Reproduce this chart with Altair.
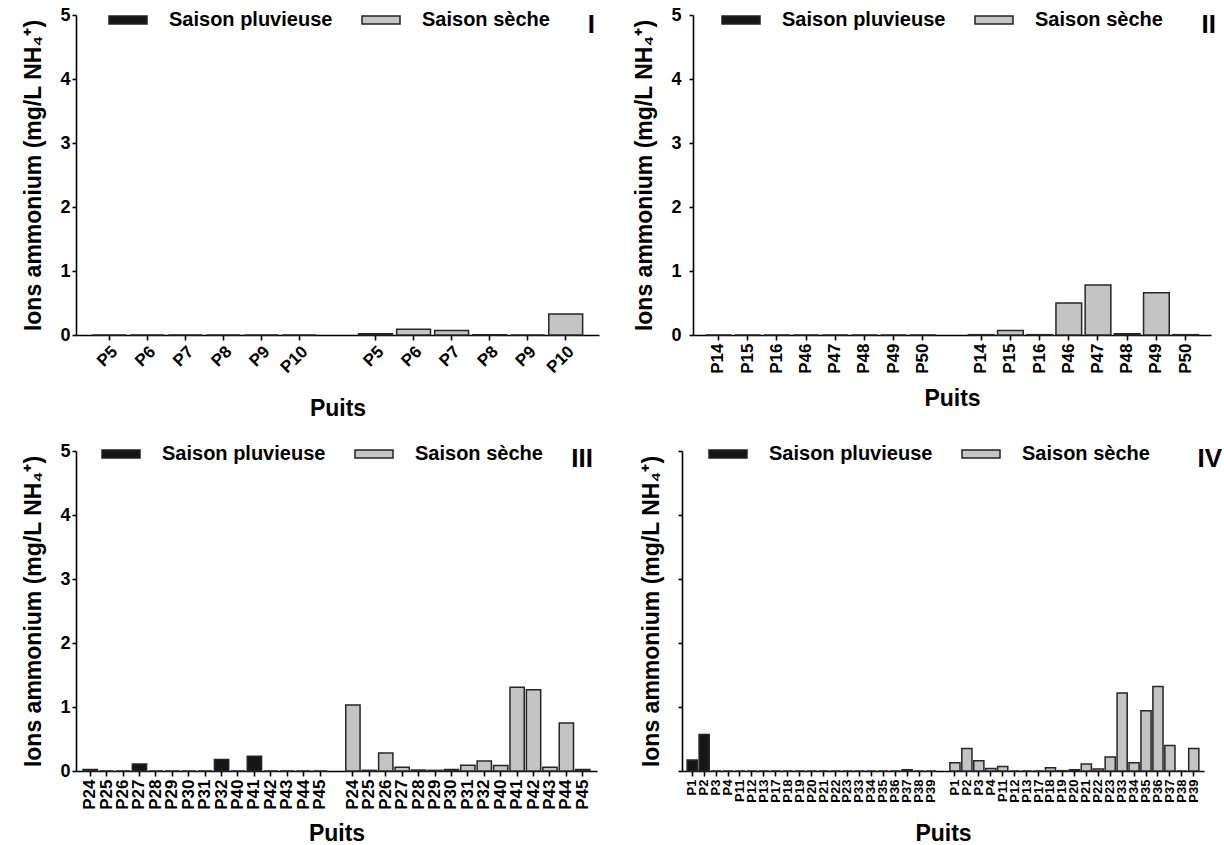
import altair as alt
import pandas as pd

FONT = "Liberation Sans"
SEASONS = ["Saison pluvieuse", "Saison sèche"]
FILLS = ["#161616", "#c4c4c4"]
ROMANS = ["I", "II", "III", "IV"]
Y_TITLE = "Ions ammonium (mg/L NH₄⁺)"
X_TITLE = "Puits"
Y_TICKS = [0, 1, 2, 3, 4, 5]

# Panel I
WELLS_I = ["P5", "P6", "P7", "P8", "P9", "P10"]
RAIN_I = [0, 0, 0, 0, 0, 0]
DRY_I = [0.02, 0.09, 0.07, 0.005, 0, 0.33]

# Panel II
WELLS_II = ["P14", "P15", "P16", "P46", "P47", "P48", "P49", "P50"]
RAIN_II = [0, 0, 0, 0, 0, 0, 0, 0]
DRY_II = [0.005, 0.07, 0.005, 0.50, 0.78, 0.02, 0.66, 0.005]

# Panel III
WELLS_III = ["P24", "P25", "P26", "P27", "P28", "P29", "P30", "P31", "P32",
             "P40", "P41", "P42", "P43", "P44", "P45"]
RAIN_III = [0.025, 0, 0, 0.11, 0, 0, 0, 0, 0.18, 0, 0.23, 0, 0, 0, 0]
DRY_III = [1.03, 0.01, 0.28, 0.06, 0.015, 0.01, 0.025, 0.09, 0.155, 0.085,
           1.31, 1.27, 0.06, 0.75, 0.025]

# Panel IV
WELLS_IV = ["P1", "P2", "P3", "P4", "P11", "P12", "P13", "P17", "P18", "P19",
            "P20", "P21", "P22", "P23", "P33", "P34", "P35", "P36", "P37", "P38", "P39"]
RAIN_IV = [0.17, 0.57, 0, 0, 0, 0, 0, 0, 0, 0, 0, 0, 0, 0, 0, 0, 0, 0, 0.02, 0, 0]
DRY_IV = [0.13, 0.35, 0.16, 0.04, 0.07, 0, 0, 0, 0.05, 0.005, 0.02, 0.11, 0.03,
          0.22, 1.22, 0.13, 0.94, 1.32, 0.40, 0, 0.35]


def panel(wells, rain, dry, roman, width, label_angle, label_size, y_labels,
          y_label_pad, x_title_pad, legend_x, legend_y, roman_dx, roman_y, pad_inner):
    keys_r = ["R|" + w for w in wells]
    keys_s = ["S|" + w for w in wells]
    df = pd.DataFrame({
        "cle": keys_r + keys_s,
        "saison": [SEASONS[0]] * len(wells) + [SEASONS[1]] * len(wells),
        "valeur": list(rain) + list(dry),
    })
    domain = keys_r + ["gap"] + keys_s
    bars = alt.Chart(df).mark_bar(stroke="#262626", strokeWidth=1.5).encode(
        x=alt.X(
            "cle:N",
            scale=alt.Scale(domain=domain, paddingInner=pad_inner, paddingOuter=0.43),
            axis=alt.Axis(
                title=X_TITLE,
                labelExpr="datum.value == 'gap' ? '' : split(datum.value, '|')[1]",
                labelAngle=label_angle,
                labelFontSize=label_size,
                labelFontWeight="bold",
                labelOverlap=False,
                labelPadding=3,
                tickSize=5,
                tickOpacity={"condition": {"test": "datum.value == 'gap'", "value": 0}, "value": 1},
                titleFontSize=23,
                titleFontWeight="bold",
                titlePadding=x_title_pad,
            ),
        ),
        y=alt.Y(
            "valeur:Q",
            scale=alt.Scale(domain=[0, 5], nice=False),
            axis=alt.Axis(
                title=Y_TITLE,
                values=Y_TICKS,
                labels=y_labels,
                labelFontSize=18,
                labelFontWeight="bold",
                labelPadding=y_label_pad,
                tickSize=4,
                titleFontSize=23,
                titleFontWeight="bold",
                titlePadding=14,
            ),
        ),
        fill=alt.Fill(
            "saison:N",
            scale=alt.Scale(domain=SEASONS, range=FILLS),
            legend=alt.Legend(
                title=None,
                orient="none",
                legendX=legend_x,
                legendY=legend_y,
                direction="horizontal",
                columnPadding=26,
                labelOffset=21,
                padding=0,
                symbolType="M-1,-0.21H1V0.21H-1Z",
                symbolSize=1444,
                symbolStrokeColor="#222222",
                symbolStrokeWidth=1.5,
                labelFontSize=20,
                labelFontWeight="bold",
                labelFont=FONT,
                labelColor="black",
                labelLimit=300,
            ),
        ),
    )
    note = alt.Chart(pd.DataFrame({"num": [roman]})).mark_text(
        align="right", baseline="alphabetic", fontSize=26, fontWeight="bold", font=FONT, color="black"
    ).encode(text="num:N", x=alt.value(width + roman_dx), y=alt.value(roman_y))
    return alt.layer(bars, note).properties(width=width, height=320)


p1 = panel(WELLS_I, RAIN_I, DRY_I, ROMANS[0], 523, -45, 17, True, 2, 22, 32, -15, -4, 18, 0.11)
p2 = panel(WELLS_II, RAIN_II, DRY_II, ROMANS[1], 518, -90, 17, True, 8, 14, 28, -15, 5, 18, 0.12)
p3 = panel(WELLS_III, RAIN_III, DRY_III, ROMANS[2], 521, -90, 17, True, 2, 13, 25, -17, -4, 16, 0.13)
p4 = panel(WELLS_IV, RAIN_IV, DRY_IV, ROMANS[3], 522, -90, 13, False, 2, 20, 26, -17, 18, 16, 0.15)

top = alt.hconcat(p1, p2, spacing=34).resolve_scale(fill="independent").resolve_legend(fill="independent")
bottom = alt.hconcat(p3, p4, spacing=43).resolve_scale(fill="independent").resolve_legend(fill="independent")

chart = (
    alt.vconcat(top, bottom, spacing=13)
    .resolve_scale(fill="independent")
    .resolve_legend(fill="independent")
    .properties(padding={"left": 22, "top": 0, "right": 0, "bottom": 0}, background="white")
    .configure(font=FONT)
    .configure_view(stroke=None)
    .configure_axis(
        grid=False,
        domainColor="black",
        domainWidth=1.6,
        tickColor="black",
        tickWidth=1.6,
        labelColor="black",
        titleColor="black",
        labelFont=FONT,
        titleFont=FONT,
    )
)

chart.save("out.html", embed_options={"renderer": "svg", "actions": False})
